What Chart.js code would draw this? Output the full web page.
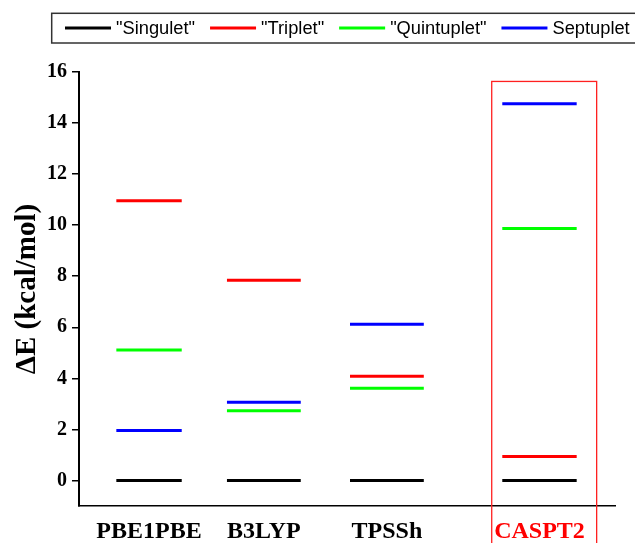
<!DOCTYPE html>
<html><head><meta charset="utf-8">
<script src="https://cdn.jsdelivr.net/npm/chart.js@4.4.0/dist/chart.umd.min.js"></script>
<style>html,body{margin:0;padding:0;background:#fff;overflow:hidden}</style>
</head><body>
<canvas id="c" width="635" height="543"></canvas>
<script>
// ---- data ----
const methods = ['PBE1PBE', 'B3LYP', 'TPSSh', 'CASPT2'];
const methodX = [0.588, 1.552, 2.585, 3.866];
const singulet = [0, 0, 0, 0];
const triplet = [10.96, 7.84, 4.08, 0.94];
const quintuplet = [5.11, 2.73, 3.61, 9.87];
const septuplet = [1.96, 3.06, 6.12, 14.76];
const seriesNames = ['"Singulet"', '"Triplet"', '"Quintuplet"', 'Septuplet'];
const yTickValues = [0, 2, 4, 6, 8, 10, 12, 14, 16];
const highlight = { xMin: 3.465, xMax: 4.346, yMin: -3, yMax: 15.63 };

// ---- styles ----
const colors = ['#000000', '#ff0000', '#00ff00', '#0000ff'];
const levelHalfWidth = [32.7, 36.9, 36.9, 37.2];
const serif = '"Liberation Serif", "Times New Roman", serif';
const sans = '"Liberation Sans", Arial, sans-serif';

const series = [singulet, triplet, quintuplet, septuplet];
const datasets = series.map((vals, i) => ({
  label: seriesNames[i],
  data: vals.map((v, j) => ({ x: methodX[j], y: v })),
  showLine: false,
  borderColor: colors[i],
  backgroundColor: colors[i],
  pointStyle: 'line',
  pointBorderColor: colors[i],
  pointBorderWidth: 3,
  pointRadius: levelHalfWidth,
  pointHoverRadius: levelHalfWidth,
}));

const legendPlugin = {
  id: 'boxLegend',
  afterDraw(chart) {
    const ctx = chart.ctx;
    ctx.save();
    ctx.strokeStyle = '#333';
    ctx.lineWidth = 1.5;
    ctx.strokeRect(51.7, 13.3, 640, 29.7);
    ctx.font = '18.3px ' + sans;
    ctx.textBaseline = 'middle';
    ctx.textAlign = 'left';
    let x = 65;
    chart.data.datasets.forEach(ds => {
      ctx.strokeStyle = ds.borderColor;
      ctx.lineWidth = 3;
      ctx.beginPath();
      ctx.moveTo(x, 28);
      ctx.lineTo(x + 46, 28);
      ctx.stroke();
      x += 51;
      ctx.fillStyle = '#000';
      ctx.fillText(ds.label, x, 28.5);
      x += ctx.measureText(ds.label).width + 15;
    });
    ctx.restore();
  }
};

const boxPlugin = {
  id: 'highlightBox',
  afterDraw(chart) {
    const xs = chart.scales.x, ys = chart.scales.y, ctx = chart.ctx;
    const l = xs.getPixelForValue(highlight.xMin), r = xs.getPixelForValue(highlight.xMax);
    const t = ys.getPixelForValue(highlight.yMax), b = ys.getPixelForValue(highlight.yMin);
    ctx.save();
    ctx.strokeStyle = '#ff2020';
    ctx.lineWidth = 1.3;
    ctx.strokeRect(l, t, r - l, b - t);
    ctx.restore();
  }
};

new Chart(document.getElementById('c'), {
  type: 'scatter',
  data: { datasets },
  plugins: [legendPlugin, boxPlugin],
  options: {
    responsive: false,
    animation: false,
    events: [],
    layout: { autoPadding: false, padding: { top: 72, right: 20, left: 0, bottom: 0 } },
    plugins: { legend: { display: false }, tooltip: { enabled: false } },
    scales: {
      x: {
        type: 'linear',
        min: 0, max: 4.5,
        afterBuildTicks(scale) { scale.ticks = methodX.map(v => ({ value: v })); },
        afterFit(scale) { scale.height = 37; scale.paddingRight = 0; scale.paddingLeft = 0; },
        grid: { display: false, drawTicks: false },
        border: { display: true, color: '#000', width: 1.5 },
        ticks: {
          autoSkip: false, maxRotation: 0, padding: 11,
          font: { family: serif, size: 24, weight: 'bold' },
          color: (c) => c.index === 3 ? '#ff0000' : '#000000',
          callback: (v, i) => methods[i]
        }
      },
      y: {
        min: -1, max: 16,
        afterBuildTicks(scale) { scale.ticks = yTickValues.map(v => ({ value: v })); },
        afterFit(scale) { scale.width = 79; },
        grid: { display: true, drawOnChartArea: false, drawTicks: true, tickLength: 7, color: '#000', lineWidth: 1.5 },
        border: { display: true, color: '#000', width: 2 },
        ticks: {
          padding: 5,
          font: { family: serif, size: 20, weight: 'bold' },
          color: '#000'
        },
        title: {
          display: true,
          text: 'ΔE (kcal/mol)',
          font: { family: serif, size: 29, weight: 'bold' },
          color: '#000',
          padding: { top: 10, bottom: 0 }
        }
      }
    }
  }
});
</script>
</body></html>
